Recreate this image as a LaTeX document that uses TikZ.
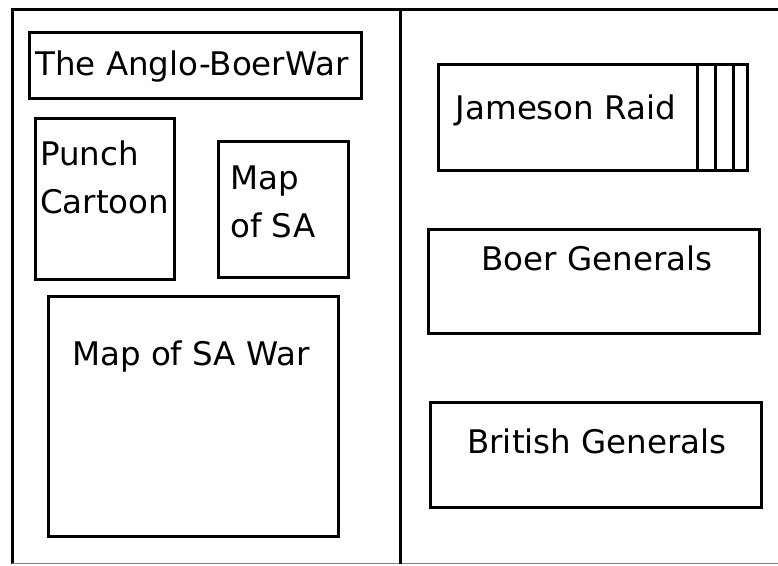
\documentclass[tikz,border=0pt]{standalone}
\usepackage{fontspec}
\setmainfont{DejaVu Sans}
\usepackage{tikz}
\usetikzlibrary{positioning,calc}

\begin{document}
\begin{tikzpicture}[
    x=1pt, y=-1pt,
    panel/.style={draw, line width=3pt, inner sep=0pt},
    frame/.style={line width=3pt},
    txt/.style={inner sep=0pt, font=\fontsize{32.5}{47.5}\selectfont, align=left},
]
\useasboundingbox (0,0) rectangle (778,565);

% Page frame and middle fold
\draw[frame] (778,9) -- (12,9) -- (12,563.5);
\draw[gray, line width=1.2pt] (12,563.5) -- (778,563.5);
\draw[frame] (400,9) -- (400,563.5);

% Left page
\node[panel, minimum width=332pt, minimum height=66pt] (war) at (195.5,65.5) {};
\node[panel, minimum width=139pt, minimum height=161pt] (punch) at (105,199) {};
\node[panel, minimum width=130pt, minimum height=136pt] (mapsa) at (283.5,209.5) {};
\node[panel, minimum width=290pt, minimum height=240pt] (mapwar) at (193.5,416.5) {};

\node[txt, anchor=base] (warT) at (192,75) {The Anglo-BoerWar};
\node[txt, anchor=base west] (punchT) at (40,213) {Punch\\Cartoon};
\node[txt, anchor=base west] (mapsaT) at (230,237) {Map\\of SA};
\node[txt, anchor=base] (mapwarT) at (191,365) {Map of SA War};

% Right page
\node[panel, minimum width=309pt, minimum height=106pt] (jameson) at (593,117.5) {};
\foreach \sx in {697.5,715,733}
    \draw[line width=3pt] (\sx,0 |- jameson.north) -- (\sx,0 |- jameson.south);
\node[panel, minimum width=331pt, minimum height=104pt] (boer) at (594,281.5) {};
\node[panel, minimum width=331pt, minimum height=105pt] (british) at (596,455) {};

\node[txt, anchor=base] (jamesonT) at (566,119) {Jameson Raid};
\node[txt, anchor=base] (boerT) at (597,270) {Boer Generals};
\node[txt, anchor=base] (britishT) at (597,453) {British Generals};
\end{tikzpicture}
\end{document}
